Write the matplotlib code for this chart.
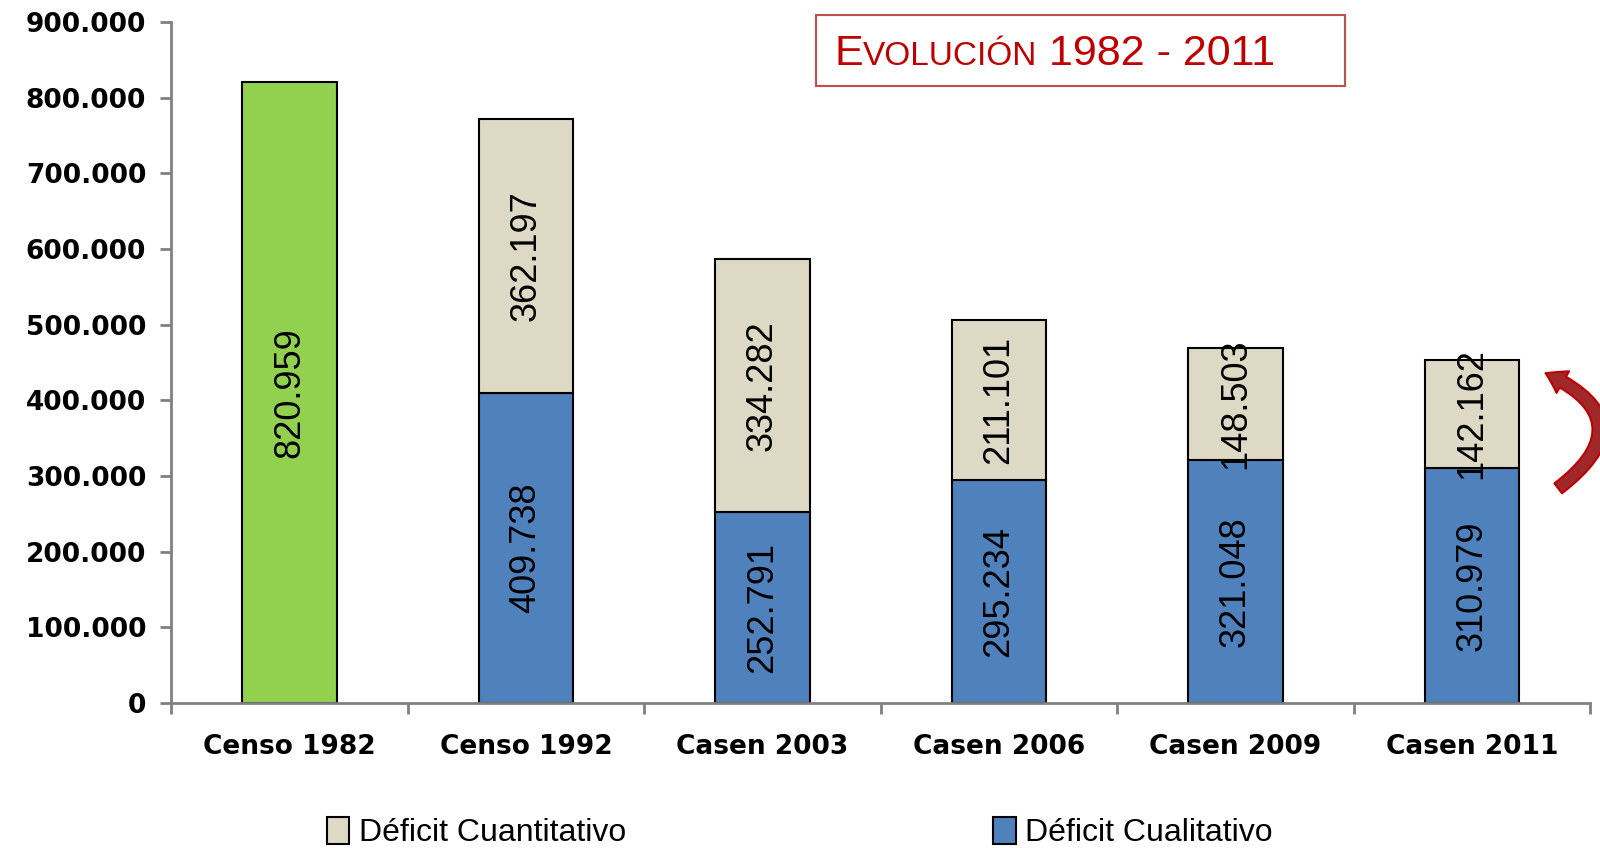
import numpy as np
import matplotlib.pyplot as plt
from matplotlib.patches import FancyArrowPatch, Rectangle
from matplotlib.ticker import FuncFormatter

categories = ['Censo 1982', 'Censo 1992', 'Casen 2003', 'Casen 2006', 'Casen 2009', 'Casen 2011']
censo_1982 = 820959
cualitativo = [409738, 252791, 295234, 321048, 310979]
cuantitativo = [362197, 334282, 211101, 148503, 142162]

narrow = ['Liberation Sans', 'DejaVu Sans']

fig = plt.figure(figsize=(16, 8.48), dpi=100)
ax = fig.add_axes([0.107, 0.171, 0.887, 0.803])

w = 0.40
x = np.arange(len(categories))
ax.bar(x[0], censo_1982, width=w, color='#92D050', edgecolor='black', linewidth=1.5)
b1 = ax.bar(x[1:], cualitativo, width=w, color='#4F81BD', edgecolor='black', linewidth=1.5,
            label='Déficit Cualitativo')
b2 = ax.bar(x[1:], cuantitativo, width=w, bottom=cualitativo, color='#DDD9C4', edgecolor='black',
            linewidth=1.5, label='Déficit Cuantitativo')

def fmt(v):
    return f'{v:,.0f}'.replace(',', '.')

ax.text(x[0], censo_1982 / 2, fmt(censo_1982), rotation=90, ha='center', va='center',
        fontsize=26, family=narrow)
for xi, q, c in zip(x[1:], cualitativo, cuantitativo):
    ax.text(xi, q / 2, fmt(q), rotation=90, ha='center', va='center', fontsize=26, family=narrow)
    ax.text(xi, q + c / 2, fmt(c), rotation=90, ha='center', va='center', fontsize=26, family=narrow)

ax.set_xlim(-0.5, len(categories) - 0.5)
ax.set_ylim(0, 900000)
ax.set_yticks(np.arange(0, 900001, 100000))
ax.yaxis.set_major_formatter(FuncFormatter(lambda v, p: fmt(v)))
ax.set_xticks(np.arange(-0.5, len(categories), 1))
ax.set_xticklabels([])
ax.set_xticks(x, minor=True)
ax.set_xticklabels(categories, minor=True)
ax.tick_params(axis='x', which='minor', length=0, pad=22, labelsize=19)
ax.tick_params(axis='x', which='major', length=8, width=2, color='#808080')
ax.tick_params(axis='y', length=8, width=2, color='#808080', labelsize=19, pad=10)
for lab in ax.get_yticklabels() + ax.get_xticklabels(minor=True):
    lab.set_fontweight('bold')
for s in ['top', 'right']:
    ax.spines[s].set_visible(False)
for s in ['left', 'bottom']:
    ax.spines[s].set_color('#808080')
    ax.spines[s].set_linewidth(2)

fig.legend(handles=[b2, b1], loc='center', bbox_to_anchor=(0.5, 0.018), ncol=2, frameon=False,
           prop={'family': narrow, 'size': 23}, handlelength=0.7, handleheight=0.9,
           handletextpad=0.3, columnspacing=11.5)

# title box
fig.patches.append(Rectangle((816 / 1600, 1 - 86 / 848), 529 / 1600, 71 / 848,
                             transform=fig.transFigure, fill=False, edgecolor='#C0504D', linewidth=1.5))
t1 = fig.text(834 / 1600, 1 - 65 / 848, 'E', color='#C00000', fontsize=31, family=narrow, va='baseline')
fig.canvas.draw()
bb = t1.get_window_extent()
t2 = fig.text(bb.x1 / 1600, 1 - 65 / 848, 'VOLUCIÓN', color='#C00000', fontsize=24, family=narrow,
              va='baseline')
fig.canvas.draw()
bb2 = t2.get_window_extent()
fig.text(bb2.x1 / 1600, 1 - 65 / 848, ' 1982 - 2011', color='#C00000', fontsize=31, family=narrow,
         va='baseline')

# curved arrow
arr = FancyArrowPatch((1556 / 1600, 1 - 490 / 848), (1543 / 1600, 1 - 372 / 848),
                      transform=fig.transFigure, connectionstyle='arc3,rad=0.85',
                      arrowstyle='simple,head_width=18,head_length=14,tail_width=9',
                      facecolor='#A0282A', edgecolor='#C00000', linewidth=1.5)
fig.patches.append(arr)

fig.savefig('out.png', dpi=100)
